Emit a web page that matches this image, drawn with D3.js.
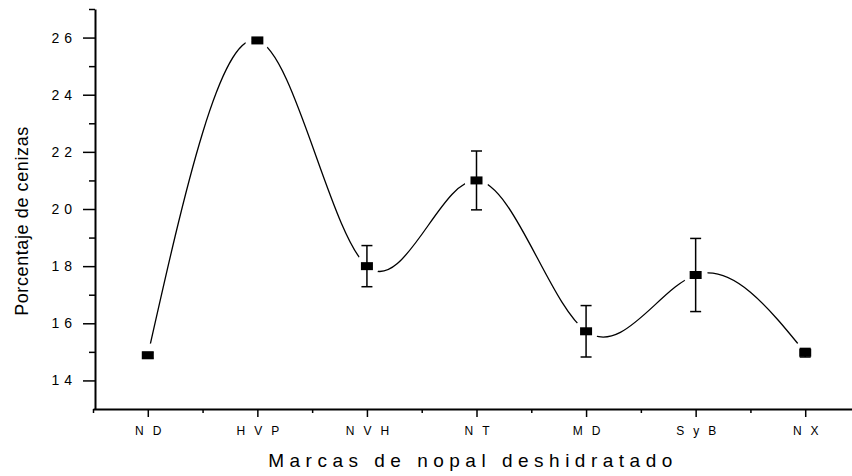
<!DOCTYPE html>
<html>
<head>
<meta charset="utf-8">
<script src="https://cdn.jsdelivr.net/npm/d3@7"></script>
<style>
    body { margin: 0; background: #fff; }
    svg { display: block; }
    text { font-family: "Liberation Sans", Arial, sans-serif; fill: #000; }
</style>
</head>
<body>
<div id="chart"></div>
<script>
// marcas de nopal y su porcentaje de cenizas
let categories = ["ND", "HVP", "NVH", "NT", "MD", "SyB", "NX"];
let cenizas = [14.88, 25.9, 18.0, 21.0, 15.72, 17.69, 14.97];
let errores = [0.1, 0.05, 0.72, 1.03, 0.9, 1.28, 0.15];
let yTicks = [14, 16, 18, 20, 22, 24, 26];
let yMinorTicks = [15, 17, 19, 21, 23, 25, 27];

let width = 852, height = 476;

let svg = d3.select("#chart").append("svg")
    .attr("width", width)
    .attr("height", height);

//escalas
let x = d3.scaleLinear().domain([-0.5, 6.5]).range([93, 860]);
let y = d3.scaleLinear().domain([13, 27]).range([409, 9]);

let xMinor = d3.range(-0.5, 6.5, 1);

//ejes menores primero
svg.append("g")
    .attr("transform", "translate(95,0)")
    .call(d3.axisLeft(y).tickValues(yMinorTicks).tickSize(6).tickFormat(""))
    .call(g => g.select(".domain").remove());

svg.append("g")
    .attr("transform", "translate(0,409)")
    .call(d3.axisBottom(x).tickValues(xMinor).tickSize(4).tickFormat(""))
    .call(g => g.select(".domain").remove());

let yAxis = svg.append("g")
    .attr("transform", "translate(95,0)")
    .call(d3.axisLeft(y).tickValues(yTicks).tickSize(12).tickSizeOuter(0).tickPadding(6));

yAxis.selectAll("text")
    .attr("font-size", 14)
    .style("letter-spacing", "5px");

let xAxis = svg.append("g")
    .attr("transform", "translate(0,409)")
    .call(d3.axisBottom(x).tickValues(d3.range(categories.length))
        .tickFormat(i => categories[i]).tickSize(8).tickSizeOuter(0).tickPadding(9));

xAxis.selectAll("text")
    .attr("font-size", 12)
    .attr("dx", 4.5)
    .style("letter-spacing", "9px");

svg.selectAll(".domain").attr("stroke-width", 2);
svg.selectAll(".tick line").attr("stroke-width", 1.5);
svg.selectAll(".tick text").attr("font-family", null);

//curva con huecos alrededor de los simbolos
let mask = svg.append("defs").append("mask").attr("id", "gaps");
mask.append("rect").attr("width", width).attr("height", height).attr("fill", "#fff");
mask.selectAll("circle").data(cenizas).enter()
    .append("circle")
    .attr("cx", (d, i) => x(i))
    .attr("cy", d => y(d))
    .attr("r", 12)
    .attr("fill", "#000");

let line = d3.line()
    .x((d, i) => x(i))
    .y(d => y(d))
    .curve(d3.curveNatural);

svg.append("path")
    .datum(cenizas)
    .attr("d", line)
    .attr("fill", "none")
    .attr("stroke", "#000")
    .attr("stroke-width", 1.3)
    .attr("mask", "url(#gaps)");

//barras de error
let bars = svg.append("g").attr("stroke", "#000").attr("stroke-width", 1.5);
cenizas.forEach(function (v, i) {
    let cx = x(i), top = y(v + errores[i]), bot = y(v - errores[i]);
    bars.append("line").attr("x1", cx).attr("x2", cx).attr("y1", top).attr("y2", bot);
    bars.append("line").attr("x1", cx - 5.5).attr("x2", cx + 5.5).attr("y1", top).attr("y2", top);
    bars.append("line").attr("x1", cx - 5.5).attr("x2", cx + 5.5).attr("y1", bot).attr("y2", bot);
});

//simbolos
svg.append("g").selectAll("rect").data(cenizas).enter()
    .append("rect")
    .attr("x", (d, i) => x(i) - 6)
    .attr("y", d => y(d) - 4)
    .attr("width", 12)
    .attr("height", 8)
    .attr("fill", "#000");

//titulos
svg.append("text")
    .attr("x", 473)
    .attr("y", 467)
    .attr("text-anchor", "middle")
    .attr("font-size", 19)
    .style("letter-spacing", "5.5px")
    .text("Marcas de nopal deshidratado");

svg.append("text")
    .attr("transform", "translate(28,221) rotate(-90)")
    .attr("text-anchor", "middle")
    .attr("font-size", 18)
    .style("letter-spacing", "0.6px")
    .text("Porcentaje de cenizas");
</script>
</body>
</html>
